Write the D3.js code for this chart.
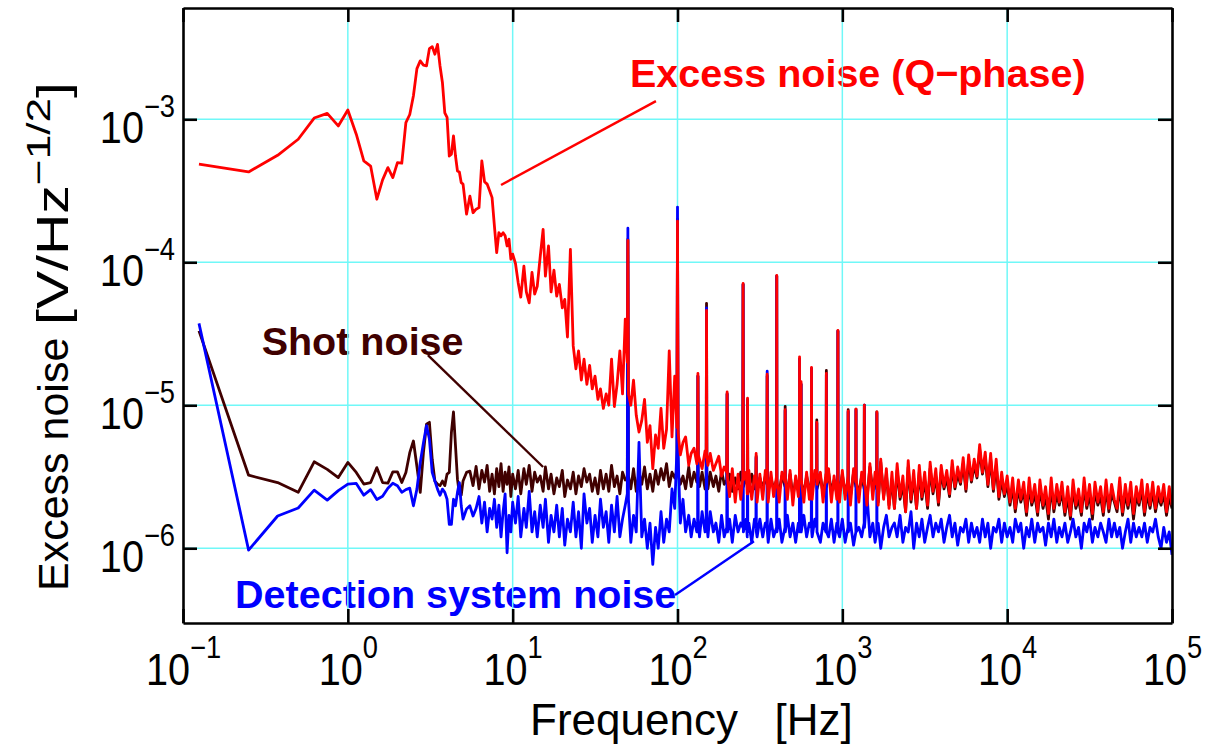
<!DOCTYPE html>
<html>
<head>
<meta charset="utf-8">
<script src="https://cdn.jsdelivr.net/npm/d3@7"></script>
<style>
body { margin: 0; background: #fff; }
text { font-family: "Liberation Sans", Arial, sans-serif; }
</style>
</head>
<body>
<svg width="1211" height="747"></svg>
<script>
// frequency [Hz]
var freq = [
    0.125, 0.25, 0.375, 0.5, 0.625, 0.75, 0.875, 1, 1.125, 1.25,
    1.375, 1.5, 1.625, 1.75, 1.875, 2, 2.125, 2.25, 2.375, 2.5,
    2.625, 2.75, 2.875, 3, 3.125, 3.25, 3.375, 3.5, 3.625, 3.75,
    3.875, 4, 4.125, 4.25, 4.375, 4.5, 4.625, 4.75, 4.875, 5,
    5.25, 5.5, 5.75, 6, 6.25, 6.5, 6.75, 7, 7.25, 7.5,
    7.75, 8, 8.25, 8.5, 8.75, 9, 9.25, 9.5, 9.75, 10,
    10.4, 10.8, 11.2, 11.7, 12.1, 12.6, 13.1, 13.6, 14.1, 14.7,
    15.3, 15.8, 16.5, 17.1, 17.8, 18.5, 19.2, 20, 20.7, 21.5,
    22.4, 23.3, 24.2, 25.1, 26.1, 27.1, 28.2, 29.3, 30.4, 31.6,
    32.9, 34.1, 35.5, 36.9, 38.3, 39.8, 41.4, 43, 44.7, 46.4,
    48.2, 49.6, 50, 50.4, 52.1, 54.1, 56.2, 58.4, 60.7, 63.1,
    65.6, 68.1, 70.8, 73.6, 76.4, 79.4, 82.5, 85.8, 89.1, 92.6,
    96.2, 99.2, 100, 100.8, 104, 108, 112, 117, 121, 126,
    131, 132.4, 133, 133.6, 136, 141, 147, 149.3, 150, 150.7,
    153, 158, 165, 171, 178, 185, 192, 199, 200, 201,
    207, 215, 224, 233, 242, 249, 250, 251, 261, 265,
    266, 267, 271, 282, 293, 299, 300, 301, 304, 316,
    329, 341, 349, 350, 351, 355, 369, 383, 399, 400,
    401, 414, 430, 449, 450, 451, 464, 482, 501, 521,
    541, 549, 550, 551, 561, 562, 563, 584, 607, 631,
    648, 650, 652, 656, 681, 698, 700, 702, 736, 764,
    794, 798, 800, 802, 825, 858, 891, 926, 938, 940,
    942, 962, 1000, 1040, 1083, 1085, 1087, 1120, 1170, 1208,
    1210, 1212, 1260, 1310, 1357, 1360, 1363, 1410, 1470, 1530,
    1580, 1617, 1620, 1623, 1650, 1710, 1780, 1850, 1920, 2000,
    2070, 2150, 2240, 2330, 2420, 2510, 2610, 2710, 2820, 2930,
    3040, 3160, 3290, 3410, 3550, 3690, 3830, 3980, 4140, 4300,
    4470, 4640, 4820, 5010, 5210, 5410, 5620, 5840, 6070, 6310,
    6560, 6810, 7080, 7360, 7640, 7940, 8250, 8580, 8910, 9260,
    9620, 10000, 10400, 10800, 11200, 11700, 12100, 12600, 13100, 13600,
    14100, 14700, 15300, 15800, 16500, 17100, 17800, 18500, 19200, 20000,
    20700, 21500, 22400, 23300, 24200, 25100, 26100, 27100, 28200, 29300,
    30400, 31600, 32900, 34100, 35500, 36900, 38300, 39800, 41400, 43000,
    44700, 46400, 48200, 50100, 52100, 54100, 56200, 58400, 60700, 63100,
    65600, 68100, 70800, 73600, 76400, 79400, 82500, 85800, 89100, 92600,
    96200, 100000
];

// excess noise, Q-phase [uV/Hz^1/2]
var qPhase = [
    485, 428, 560, 725, 1020, 1100, 898, 1160, 786, 512,
    471, 276, 377, 459, 391, 498, 493, 948, 1080, 1460,
    2260, 2560, 2390, 2360, 3120, 3220, 2850, 3340, 2360, 1800,
    1110, 1030, 553, 570, 764, 553, 435, 428, 360, 352,
    217, 290, 222, 235, 241, 512, 366, 352, 316, 283,
    179, 117, 161, 153, 161, 153, 130, 145, 105, 114,
    98, 72, 57, 94, 62, 52, 85, 60, 68, 110,
    170, 80, 130, 62, 88, 58, 70, 48, 55, 30,
    123, 26, 18, 24, 15, 21, 14, 19, 13, 16,
    11, 13, 9.5, 12, 10, 21, 9.8, 14, 24, 12,
    40, 20, 142, 12, 10, 15, 8.5, 6.5, 7.8, 11,
    5.5, 7.2, 3.6, 6.2, 5.0, 9.5, 5.0, 6.8, 24, 6.0,
    16, 7, 194, 6.5, 4.5, 5.5, 6.0, 3.8, 4.6, 5.0,
    3.9, 4.2, 16.7, 4.5, 4.2, 3.6, 4.8, 4.4, 46, 4.3,
    3.8, 4.6, 3.5, 3.9, 4.4, 3.2, 3.7, 3.4, 12.4, 3.1,
    2.3, 3.6, 2.1, 3.3, 2.2, 3.1, 71, 3.0, 3.4, 2.4,
    11.2, 2.4, 3.5, 2.2, 3.2, 3.0, 4.6, 3.0, 2.1, 3.3,
    2.2, 3.5, 3.0, 16.5, 2.9, 2.1, 3.4, 2.3, 3.2, 81,
    3.0, 2.1, 3.4, 2.9, 9.3, 3.1, 2.2, 3.5, 2.0, 3.2,
    2.3, 3.3, 21.8, 3.2, 3.0, 14.6, 3.1, 2.1, 3.4, 2.2,
    3.0, 18.4, 2.9, 2.2, 3.5, 3.1, 7.6, 2.8, 3.4, 2.1,
    3.3, 3.0, 16.7, 2.9, 3.6, 2.1, 3.2, 2.2, 3.1, 33.4,
    3.0, 2.1, 3.5, 2.2, 3.2, 9.1, 3.0, 2.0, 3.6, 2.9,
    9.4, 3.1, 2.1, 3.4, 2.8, 10.0, 3.0, 2.0, 3.9, 2.2,
    3.4, 2.8, 9.0, 3.1, 2.0, 4.2, 2.2, 3.6, 1.9, 3.4,
    1.9, 3.9, 2.3, 3.2, 1.8, 4.1, 2.2, 3.5, 1.9, 3.8,
    2.3, 3.4, 2.0, 4.0, 2.5, 3.6, 2.1, 3.8, 2.7, 3.5,
    2.4, 4.1, 2.7, 3.7, 2.9, 4.3, 2.6, 4.5, 3.0, 4.2,
    3.2, 5.3, 3.4, 4.7, 2.8, 4.6, 2.6, 4.2, 2.3, 3.4,
    2.4, 3.2, 2.1, 3.1, 1.9, 3.0, 2.2, 2.9, 1.8, 3.1,
    2.1, 2.8, 1.8, 3.0, 2.0, 2.7, 1.75, 3.1, 1.9, 2.8,
    2.1, 2.9, 1.8, 2.7, 1.7, 3.0, 2.0, 2.6, 1.8, 3.1,
    2.0, 2.8, 1.75, 2.9, 2.1, 2.7, 1.8, 3.0, 1.9, 2.8,
    2.2, 1.9, 3.1, 1.8, 2.8, 2.0, 2.9, 1.75, 2.7, 2.1,
    3.0, 1.8, 2.8, 2.0, 2.9, 1.9, 2.7, 2.1, 2.8, 1.8,
    2.7, 2.0
];

// shot noise [uV/Hz^1/2]
var shot = [
    33.1, 3.24, 2.88, 2.46, 4.02, 3.56, 3.12, 3.98, 3.39, 2.81,
    2.88, 3.66, 2.88, 2.85, 3.42, 3.42, 2.88, 3.39, 4.66, 5.62,
    3.73, 2.46, 4.66, 7.36, 7.6, 4.19, 2.95, 2.81, 2.74, 2.95,
    2.74, 3.3, 3.39, 6.45, 8.97, 5.19, 3.04, 2.39, 2.35, 2.95,
    3.39, 3.46, 2.74, 3.73, 2.6, 3.5, 2.9, 3.8, 2.5, 3.3,
    2.4, 3.6, 2.7, 3.9, 2.5, 3.4, 2.8, 3.7, 2.3, 3.3,
    2.6, 3.5, 2.4, 3.6, 2.8, 3.8, 2.5, 3.4, 2.9, 3.2,
    2.5, 3.7, 2.6, 3.3, 2.4, 3.1, 2.7, 3.5, 2.3, 3.0,
    2.6, 3.4, 2.4, 3.2, 2.7, 3.6, 2.9, 3.3, 2.5, 3.1,
    2.4, 3.5, 2.6, 3.3, 2.5, 3.8, 2.7, 3.2, 2.4, 3.4,
    3.0, 3.1, 145, 3.2, 2.6, 3.6, 2.5, 3.4, 2.8, 3.7,
    2.6, 3.3, 2.5, 3.5, 2.8, 3.6, 3.0, 3.9, 2.7, 3.4,
    3.1, 3.5, 200, 3.3, 2.8, 3.2, 2.6, 3.7, 2.7, 3.4,
    2.9, 3.0, 16, 3.0, 2.7, 3.4, 2.6, 3.0, 51.6, 3.1,
    2.6, 3.4, 2.7, 3.2, 2.5, 3.5, 2.8, 3.0, 12, 2.9,
    3.3, 2.5, 3.1, 2.6, 3.4, 2.8, 70, 2.7, 3.2, 2.8,
    11, 2.7, 2.5, 3.3, 2.6, 3.0, 4.4, 2.8, 2.5, 3.1,
    2.6, 3.2, 2.8, 16, 2.7, 2.5, 3.1, 2.6, 3.0, 80,
    2.8, 2.5, 3.2, 2.7, 9.8, 2.9, 2.5, 3.3, 2.3, 3.0,
    2.7, 3.0, 21, 3.0, 2.8, 14, 2.9, 2.4, 3.2, 2.6,
    2.8, 18, 2.7, 2.5, 3.3, 2.9, 7.9, 2.6, 3.2, 2.4,
    3.1, 2.8, 17.5, 2.7, 3.4, 2.5, 3.0, 2.4, 2.9, 33,
    2.8, 2.5, 3.3, 2.4, 3.0, 9.3, 2.8, 2.3, 3.4, 2.7,
    9.4, 2.9, 2.4, 3.2, 2.6, 10, 2.8, 2.2, 3.7, 2.5,
    3.1, 2.6, 9, 2.9, 2.1, 4.0, 2.3, 3.3, 2.0, 3.0,
    1.9, 3.5, 2.2, 2.8, 1.8, 3.7, 2.1, 3.1, 1.9, 3.4,
    2.2, 3.0, 1.9, 3.6, 2.4, 3.2, 2.0, 3.4, 2.6, 3.1,
    2.3, 3.7, 2.6, 3.3, 2.8, 3.9, 2.5, 4.1, 2.9, 3.8,
    3.1, 4.9, 3.3, 4.3, 2.7, 4.2, 2.5, 3.8, 2.2, 3.0,
    2.3, 2.8, 2.0, 2.7, 1.8, 2.6, 2.1, 2.5, 1.7, 2.7,
    2.0, 2.4, 1.7, 2.6, 1.9, 2.3, 1.6, 2.7, 1.8, 2.4,
    2.0, 2.5, 1.7, 2.3, 1.6, 2.6, 1.9, 2.2, 1.7, 2.7,
    1.9, 2.4, 1.6, 2.5, 2.0, 2.3, 1.7, 2.6, 1.8, 2.4,
    2.1, 1.8, 2.7, 1.7, 2.4, 1.9, 2.5, 1.6, 2.3, 2.0,
    2.6, 1.7, 2.4, 1.9, 2.5, 1.8, 2.3, 2.0, 2.4, 1.7,
    2.3, 1.9
];

// detection system noise [uV/Hz^1/2]
var detection = [
    37.4, 0.97, 1.68, 1.91, 2.55, 2.17, 2.53, 2.81, 2.84, 2.35,
    2.57, 2.19, 2.31, 2.63, 2.85, 2.74, 2.46, 2.57, 2.63, 1.98,
    2.59, 3.98, 5.45, 7.2, 5.8, 3.39, 2.95, 2.59, 2.35, 2.59,
    2.46, 2.2, 1.47, 1.47, 2.2, 1.98, 2.46, 2.88, 1.98, 1.6,
    1.88, 1.98, 1.68, 1.9, 2.3, 1.5, 2.1, 1.3, 1.9, 1.6,
    2.2, 1.4, 2.0, 1.2, 1.8, 2.4, 0.93, 1.7, 1.3, 2.1,
    1.5, 2.3, 1.2, 1.9, 1.4, 2.5, 1.3, 1.8, 1.2, 2.0,
    1.4, 2.2, 1.1, 1.7, 1.3, 2.0, 1.2, 1.9, 1.05, 1.6,
    1.3, 2.1, 1.2, 1.8, 1.0, 2.4, 1.5, 1.9, 1.1, 1.7,
    1.2, 2.2, 1.4, 1.8, 1.1, 2.0, 1.3, 2.3, 1.2, 1.6,
    2.0, 2.4, 173, 2.2, 1.1, 1.7, 1.3, 5.5, 1.2, 1.6,
    1.0, 1.5, 0.77, 1.4, 1.0, 1.8, 1.1, 1.6, 1.3, 2.6,
    1.9, 4.9, 243, 4.5, 1.5, 2.2, 1.3, 1.7, 1.2, 1.6,
    1.3, 1.4, 16, 1.5, 1.2, 1.8, 1.3, 1.6, 48, 1.5,
    1.2, 1.8, 1.3, 1.5, 1.1, 1.7, 1.2, 1.4, 12, 1.3,
    1.6, 1.1, 1.7, 1.3, 1.5, 1.4, 70, 1.3, 1.6, 1.2,
    10.8, 1.3, 1.5, 1.1, 1.6, 1.4, 4.3, 1.3, 1.2, 1.6,
    1.2, 1.5, 1.4, 17.3, 1.3, 1.1, 1.6, 1.2, 1.4, 80,
    1.3, 1.6, 1.1, 1.4, 9.2, 1.3, 1.7, 1.2, 1.5, 1.1,
    1.5, 1.4, 21, 1.3, 1.4, 14, 1.3, 1.7, 1.2, 1.5,
    1.4, 18, 1.3, 1.2, 1.6, 1.4, 7.5, 1.3, 1.1, 1.5,
    1.3, 1.4, 16.5, 1.3, 1.2, 1.6, 1.1, 1.5, 1.4, 33,
    1.3, 1.2, 1.6, 1.1, 1.4, 9, 1.3, 1.5, 1.05, 1.3,
    9.2, 1.3, 1.4, 1.2, 1.5, 10, 1.4, 2.4, 1.2, 1.5,
    1.1, 1.3, 8.8, 1.3, 1.5, 1.0, 1.4, 1.7, 1.2, 1.4,
    1.5, 1.2, 1.7, 1.1, 1.4, 1.3, 1.8, 1.0, 1.5, 1.2,
    1.6, 1.1, 1.4, 1.7, 1.2, 1.5, 1.3, 1.6, 1.1, 1.4,
    1.7, 1.2, 1.5, 1.05, 1.4, 1.3, 1.6, 1.1, 1.5, 1.2,
    1.4, 1.1, 1.6, 1.2, 1.5, 1.0, 1.4, 1.3, 1.6, 1.1,
    1.5, 1.2, 1.4, 1.1, 1.6, 1.3, 1.5, 1.0, 1.4, 1.2,
    1.6, 1.1, 1.5, 1.3, 1.4, 1.05, 1.5, 1.2, 1.6, 1.1,
    1.4, 1.2, 1.5, 1.1, 1.3, 1.6, 1.2, 1.4, 1.0, 1.5,
    1.3, 1.6, 1.1, 1.4, 1.2, 1.5, 1.3, 1.1, 1.6, 1.2,
    1.5, 1.2, 1.4, 1.0, 1.3, 1.6, 1.1, 1.5, 1.2, 1.4,
    1.2, 1.5, 1.1, 1.4, 1.3, 1.6, 1.2, 1.0, 1.4, 1.1,
    1.3, 0.9
];

var xTicks = [1e-1, 1e0, 1e1, 1e2, 1e3, 1e4, 1e5],
    xExp = ["\u22121", "0", "1", "2", "3", "4", "5"];
var yTicks = [1e-6, 1e-5, 1e-4, 1e-3],
    yExp = ["\u22126", "\u22125", "\u22124", "\u22123"];

var svg = d3.select("svg"),
    margin = {top: 8, right: 39, bottom: 124, left: 183},
    width = +svg.attr("width") - margin.left - margin.right,
    height = +svg.attr("height") - margin.top - margin.bottom,
    g = svg.append("g").attr("transform", "translate(" + margin.left + "," + margin.top + ")");

var x = d3.scaleLog()
    .domain([1e-1, 1e5])
    .range([0, width]);

var y = d3.scaleLog()
    .domain([3e-7, 6e-3])
    .range([height, 0]);

// annotations (placed in data space)
var notes = [
    {text: "Excess noise (Q\u2212phase)", color: "#ff0000", f: 51.5, v: 1.68e-3,
     from: [8.5, 3.47e-4], to: [74, 1.34e-3]},
    {text: "Shot noise", color: "#400000", f: 0.30, v: 2.24e-5,
     from: [3.06, 2.24e-5], to: [15.3, 3.7e-6]},
    {text: "Detection system noise", color: "#0000ff", f: 0.207, v: 3.82e-7,
     from: [96.6, 4.71e-7], to: [291, 1.12e-6]}
];

g.selectAll(".note")
    .data(notes)
  .enter().append("text")
    .attr("class", "note")
    .attr("x", function(d) { return x(d.f); })
    .attr("y", function(d) { return y(d.v); })
    .attr("fill", function(d) { return d.color; })
    .style("font-size", "39.5px")
    .style("font-weight", "bold")
    .text(function(d) { return d.text; });

// grid
g.append("g")
    .selectAll("line")
    .data(xTicks.slice(1, -1))
  .enter().append("line")
    .attr("x1", x).attr("x2", x)
    .attr("y1", 0).attr("y2", height)
    .attr("stroke", "#70f8f8")
    .attr("stroke-width", 1.5);

g.append("g")
    .selectAll("line")
    .data(yTicks)
  .enter().append("line")
    .attr("y1", y).attr("y2", y)
    .attr("x1", 0).attr("x2", width)
    .attr("stroke", "#70f8f8")
    .attr("stroke-width", 1.5);

g.append("defs").append("clipPath")
    .attr("id", "clip")
  .append("rect")
    .attr("width", width)
    .attr("height", height);

var line = d3.line()
    .x(function(d, i) { return x(freq[i]); })
    .y(function(d) { return y(d * 1e-6); });

var series = [
    {values: shot, color: "#400000"},
    {values: detection, color: "#0000ff"},
    {values: qPhase, color: "#ff0000"}
];

g.append("g")
    .attr("clip-path", "url(#clip)")
    .selectAll("path")
    .data(series)
  .enter().append("path")
    .attr("d", function(d) { return line(d.values); })
    .attr("fill", "none")
    .attr("stroke", function(d) { return d.color; })
    .attr("stroke-width", 2.8)
    .attr("stroke-linejoin", "round");

g.selectAll(".leader")
    .data(notes)
  .enter().append("line")
    .attr("class", "leader")
    .attr("x1", function(d) { return x(d.from[0]); })
    .attr("y1", function(d) { return y(d.from[1]); })
    .attr("x2", function(d) { return x(d.to[0]); })
    .attr("y2", function(d) { return y(d.to[1]); })
    .attr("stroke", function(d) { return d.color; })
    .attr("stroke-width", 2.4);

// axes, ticks inside on all four sides
function styleAxis(sel) {
    sel.selectAll("text").remove();
    sel.select(".domain").attr("stroke", "#000").attr("stroke-width", 2.6);
    sel.selectAll(".tick line").attr("stroke", "#000").attr("stroke-width", 2.6);
}

var xAxis = g.append("g")
    .attr("transform", "translate(0," + height + ")")
    .call(d3.axisBottom(x).tickValues(xTicks).tickSize(-14).tickSizeOuter(0))
    .call(styleAxis);

g.append("g")
    .call(d3.axisTop(x).tickValues(xTicks).tickSize(-14).tickSizeOuter(0))
    .call(styleAxis);

var yAxis = g.append("g")
    .call(d3.axisLeft(y).tickValues(yTicks).tickSize(-14).tickSizeOuter(0))
    .call(styleAxis);

g.append("g")
    .attr("transform", "translate(" + width + ",0)")
    .call(d3.axisRight(y).tickValues(yTicks).tickSize(-14).tickSizeOuter(0))
    .call(styleAxis);

xAxis.selectAll(".tick").append("text")
    .attr("transform", "translate(0,62) scale(0.88,1)")
    .attr("text-anchor", "middle")
    .attr("fill", "#000")
    .style("font-size", "45px")
    .each(function(d, i) {
        var t = d3.select(this);
        t.append("tspan").text("10");
        t.append("tspan").attr("dy", -27).style("font-size", "31px").text(xExp[i]);
    });

yAxis.selectAll(".tick").append("text")
    .attr("transform", "translate(-8,23) scale(0.88,1)")
    .attr("text-anchor", "end")
    .attr("fill", "#000")
    .style("font-size", "45px")
    .each(function(d, i) {
        var t = d3.select(this);
        t.append("tspan").text("10");
        t.append("tspan").attr("dy", -26).style("font-size", "31px").text(yExp[i]);
    });

// axis titles
svg.append("text")
    .attr("x", 530)
    .attr("y", 735)
    .attr("fill", "#000")
    .style("font-size", "44px")
    .style("white-space", "pre")
    .text("Frequency   [Hz]");

svg.append("text")
    .attr("transform", "translate(68,591) rotate(-90)")
    .attr("fill", "#000")
    .style("font-size", "43px")
    .text("Excess noise");

var unit = svg.append("text")
    .attr("transform", "translate(68,325) rotate(-90) scale(1.3,1)")
    .attr("fill", "#000")
    .style("font-size", "44px");
unit.append("tspan").text("[V/Hz");
unit.append("tspan").attr("dy", -18).style("font-size", "34px").text("\u22121/2");
unit.append("tspan").attr("dy", 18).text("]");
</script>
</body>
</html>
